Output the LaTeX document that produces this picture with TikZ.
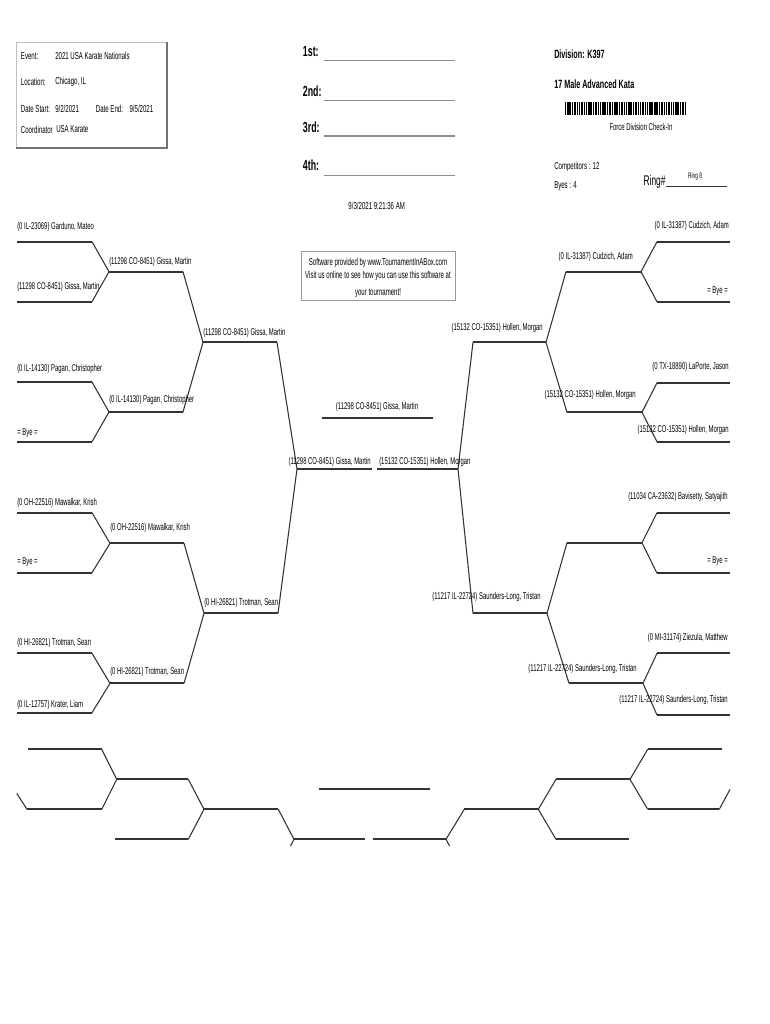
\documentclass[tikz,border=0pt]{standalone}
\usepackage{fontspec}
\setmainfont{Liberation Sans}[FakeStretch=0.6]
\begin{document}
\begin{tikzpicture}[x=0.75pt,y=-0.75pt]
        % 样式
        \tikzset{
          brk/.style={draw=black!80, line width=1.6pt},
          slant/.style={draw=black!80, line width=0.8pt},
          lbl/.style={inner sep=0pt, font=\fontsize{7.4}{8}\selectfont},
          hdr/.style={inner sep=0pt, font=\fontsize{7.6}{9}\selectfont},
          rank/.style={inner sep=0pt, font=\fontsize{11}{13}\selectfont\bfseries},
          blank/.style={draw=black!45, line width=0.9pt},
        }
        % 一条横线: 名字, 起点x, 终点x, y
        \newcommand{\brline}[4]{\coordinate (#1a) at (#2,#4); \coordinate (#1b) at (#3,#4); \draw[brk] (#1a) -- (#1b);}

        \fill[white] (0,0) rectangle (770,1024);
        \useasboundingbox (0,0) rectangle (770,1024);

        % 左上信息框
        \draw[black!25, line width=0.5pt] (16,147) -- (16,42) -- (166,42);
        \draw[black!55, line width=1.5pt] (16,147.5) -- (167,147.5) -- (167,42);
        \node[hdr, anchor=west] (ev) at (20.7,55.7) {Event:};
        \node[hdr, anchor=west] (evv) at (55,55.7) {2021 USA Karate Nationals};
        \node[hdr, anchor=west] (loc) at (20.7,82.3) {Location:};
        \node[hdr, anchor=west] (locv) at (55,82.3) {Chicago, IL};
        \node[hdr, anchor=west] (ds) at (20.7,109) {Date Start:};
        \node[hdr, anchor=west] (dsv) at (55,109) {9/2/2021};
        \node[hdr, anchor=west] (de) at (95.7,109) {Date End:};
        \node[hdr, anchor=west] (dev) at (129.3,109) {9/5/2021};
        \node[hdr, anchor=west] (co) at (20.7,129.5) {Coordinator};
        \node[hdr, anchor=west] (cov) at (56,129.5) {USA Karate};

        % 名次
        \node[rank, anchor=west] (p1) at (302.7,51.7) {1st:};
        \node[rank, anchor=west] (p2) at (302.7,91.7) {2nd:};
        \node[rank, anchor=west] (p3) at (302.7,127.3) {3rd:};
        \node[rank, anchor=west] (p4) at (302.7,165.7) {4th:};
        \draw[blank] (324.3,60.7) -- (455,60.7);
        \draw[blank] (324.3,100.7) -- (455,100.7);
        \draw[blank] (324.3,136) -- (455,136);
        \draw[blank] (324.3,175.7) -- (455,175.7);

        % 组别 + 条码
        \node[inner sep=0pt, anchor=west, font=\fontsize{9}{11}\selectfont\bfseries] (div) at (554,54.3) {Division: K397};
        \node[inner sep=0pt, anchor=west, font=\fontsize{9}{11}\selectfont\bfseries] (cat) at (554,84.3) {17 Male Advanced Kata};
        \foreach \i in {0,...,69}{
          \pgfmathsetmacro{\bw}{(mod(\i*7+2,5)<2) ? 1.3 : 0.8}
          \ifnum\numexpr\i-5*(\i/5)\relax=4\else
            \fill[black] (565+1.74*\i,101.7) rectangle ++(\bw,13.3);
          \fi
        }
        \node[lbl] (chk) at (641,126.7) {Force Division Check-In};
        \node[hdr, anchor=west] (cmp) at (554,166.7) {Competitors : 12};
        \node[hdr, anchor=west] (bye) at (554,186) {Byes : 4};
        \node[inner sep=0pt, anchor=west, font=\fontsize{10.5}{12}\selectfont] (ring) at (643.3,181.7) {Ring\#};
        \draw[black!80, line width=0.6pt] (666,186.7) -- (726.7,186.7);
        \node[inner sep=0pt, font=\fontsize{6}{7}\selectfont] (rnum) at (695,176.7) {Ring 8};

        \node[hdr] (date) at (376.7,205.7) {9/3/2021 9:21:36 AM};
        \draw[black!40, line width=0.5pt] (301.7,251.7) rectangle (455,300);
        \node[hdr] (sw1) at (378,263.3) {Software provided by www.TournamentInABox.com};
        \node[hdr] (sw2) at (378,275.7) {Visit us online to see how you can use this software at};
        \node[hdr] (sw3) at (378,293.3) {your tournament!};

        % 左半区
        \brline{la1}{17}{92}{241.7}
        \brline{la2}{17}{92}{301.7}
        \brline{la3}{109}{183}{271.7}
        \draw[slant] (la1b) -- (la3a) -- (la2b);
        \brline{lb1}{17}{92}{382}
        \brline{lb2}{17}{92}{441.7}
        \brline{lb3}{109}{183}{412}
        \draw[slant] (lb1b) -- (lb3a) -- (lb2b);
        \brline{lab}{203}{277}{342.3}
        \draw[slant] (la3b) -- (laba) -- (lb3b);
        \brline{lc1}{17}{92}{512.7}
        \brline{lc2}{17}{92}{572.7}
        \brline{lc3}{110}{184}{543.3}
        \draw[slant] (lc1b) -- (lc3a) -- (lc2b);
        \brline{ld1}{17}{92}{653.3}
        \brline{ld2}{17}{92}{712.7}
        \brline{ld3}{110}{184}{683.3}
        \draw[slant] (ld1b) -- (ld3a) -- (ld2b);
        \brline{lcd}{204}{278}{613.3}
        \draw[slant] (lc3b) -- (lcda) -- (ld3b);
        \brline{lfin}{297}{372}{469}
        \draw[slant] (labb) -- (lfina) -- (lcdb);

        % 右半区
        \brline{ra1}{657}{730}{241.7}
        \brline{ra2}{657}{730}{301.7}
        \brline{ra3}{566}{641}{271.7}
        \draw[slant] (ra1a) -- (ra3b) -- (ra2a);
        \brline{rb1}{657}{730}{382.7}
        \brline{rb2}{657}{730}{441.7}
        \brline{rb3}{567}{642}{412.3}
        \draw[slant] (rb1a) -- (rb3b) -- (rb2a);
        \brline{rab}{473}{546}{342.3}
        \draw[slant] (ra3a) -- (rabb) -- (rb3a);
        \brline{rc1}{657}{730}{512.7}
        \brline{rc2}{657}{730}{573.3}
        \brline{rc3}{567}{642}{542.7}
        \draw[slant] (rc1a) -- (rc3b) -- (rc2a);
        \brline{rd1}{657}{730}{653.3}
        \brline{rd2}{657}{730}{715}
        \brline{rd3}{569}{643}{683.3}
        \draw[slant] (rd1a) -- (rd3b) -- (rd2a);
        \brline{rcd}{473}{547}{613.3}
        \draw[slant] (rc3a) -- (rcdb) -- (rd3a);
        \brline{rfin}{377}{458}{469}
        \draw[slant] (raba) -- (rfinb) -- (rcda);

        % 冠军
        \brline{champ}{322}{433}{417.7}

        % 左侧名字
        \node[lbl, anchor=west] (tla1) at (17,227.3) {(0 IL-23069) Garduno, Mateo};
        \node[lbl, anchor=west] (tla2) at (17,287.3) {(11298 CO-8451) Gissa, Martin};
        \node[lbl, anchor=west] (tlb1) at (17,369.3) {(0 IL-14130) Pagan, Christopher};
        \node[lbl, anchor=west] (tlb2) at (17,432.7) {= Bye =};
        \node[lbl, anchor=west] (tlc1) at (17,502.7) {(0 OH-22516) Mawalkar, Krish};
        \node[lbl, anchor=west] (tlc2) at (17,561.7) {= Bye =};
        \node[lbl, anchor=west] (tld1) at (17,643.3) {(0 HI-26821) Trotman, Sean};
        \node[lbl, anchor=west] (tld2) at (17,705) {(0 IL-12757) Krater, Liam};
        \node[lbl, anchor=west] (tla3) at (109,262.3) {(11298 CO-8451) Gissa, Martin};
        \node[lbl, anchor=west] (tlb3) at (109,400) {(0 IL-14130) Pagan, Christopher};
        \node[lbl, anchor=west] (tlc3) at (110,528.3) {(0 OH-22516) Mawalkar, Krish};
        \node[lbl, anchor=west] (tld3) at (110,672.3) {(0 HI-26821) Trotman, Sean};
        \node[lbl, anchor=west] (tlab) at (203,332.7) {(11298 CO-8451) Gissa, Martin};
        \node[lbl, anchor=west] (tlcd) at (204,602.7) {(0 HI-26821) Trotman, Sean};
        \node[lbl, anchor=east] (tlfin) at (371,461.7) {(11298 CO-8451) Gissa, Martin};
        \node[lbl] (tchamp) at (377,406.7) {(11298 CO-8451) Gissa, Martin};

        % 右侧名字
        \node[lbl, anchor=east] (tra1) at (729,225.7) {(0 IL-31387) Cudzich, Adam};
        \node[lbl, anchor=east] (tra2) at (728,291) {= Bye =};
        \node[lbl, anchor=east] (trb1) at (729,366.7) {(0 TX-18890) LaPorte, Jason};
        \node[lbl, anchor=east] (trb2) at (729,430) {(15132 CO-15351) Hollen, Morgan};
        \node[lbl, anchor=east] (trc1) at (728,497.3) {(11034 CA-23632) Bavisetty, Satyajith};
        \node[lbl, anchor=east] (trc2) at (728,561) {= Bye =};
        \node[lbl, anchor=east] (trd1) at (728,638.3) {(0 MI-31174) Ziezula, Matthew};
        \node[lbl, anchor=east] (trd2) at (728,700) {(11217 IL-22724) Saunders-Long, Tristan};
        \node[lbl, anchor=east] (tra3) at (633,256.7) {(0 IL-31387) Cudzich, Adam};
        \node[lbl, anchor=east] (trb3) at (636,395) {(15132 CO-15351) Hollen, Morgan};
        \node[lbl, anchor=east] (trd3) at (637,669.3) {(11217 IL-22724) Saunders-Long, Tristan};
        \node[lbl, anchor=east] (trab) at (543,328.3) {(15132 CO-15351) Hollen, Morgan};
        \node[lbl, anchor=east] (trcd) at (541,596.7) {(11217 IL-22724) Saunders-Long, Tristan};
        \node[lbl, anchor=west] (trfin) at (379,461.7) {(15132 CO-15351) Hollen, Morgan};

        % 下方空白表 (左)
        \brline{ba1}{28}{101.7}{749.3}
        \brline{ba2}{27}{101.7}{809.3}
        \brline{ba3}{116.7}{188.3}{779.3}
        \draw[slant] (ba1b) -- (ba3a) -- (ba2b);
        \coordinate (bstub1) at (16.7,793.3);
        \draw[slant] (ba2a) -- (bstub1);
        \brline{bb2}{115}{188.3}{839.3}
        \brline{bab}{204}{278.3}{809.3}
        \draw[slant] (ba3b) -- (baba) -- (bb2b);
        \brline{bfl}{294}{365}{839.3}
        \coordinate (bstub2) at (290.5,846);
        \draw[slant] (babb) -- (bfla) -- (bstub2);
        % 中间
        \brline{bmid}{319.3}{430}{789.3}
        % 下方空白表 (右)
        \brline{bfr}{372.7}{446}{839.3}
        \coordinate (bstub3) at (449.5,846);
        \brline{bcd}{464.3}{538.3}{809.3}
        \draw[slant] (bstub3) -- (bfrb) -- (bcda);
        \brline{bc3}{556}{630}{779.3}
        \brline{bc4}{556}{629.3}{839.3}
        \draw[slant] (bc3a) -- (bcdb) -- (bc4a);
        \brline{bc1}{647.7}{721.7}{749.3}
        \brline{bc2}{647.7}{719.3}{809.3}
        \draw[slant] (bc1a) -- (bc3b) -- (bc2a);
        \coordinate (bstub4) at (730,789.3);
        \draw[slant] (bc2b) -- (bstub4);
\end{tikzpicture}
\end{document}
